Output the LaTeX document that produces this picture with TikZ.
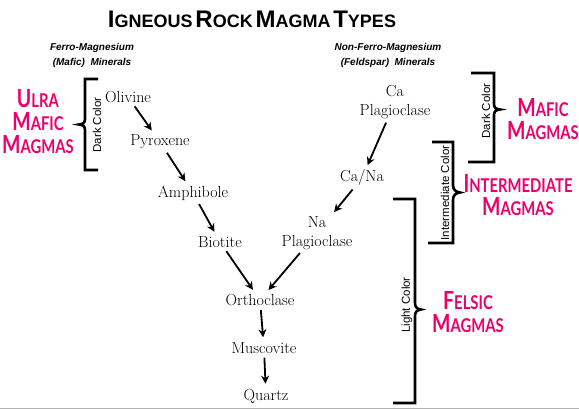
\documentclass[tikz,border=0pt]{standalone}
\usepackage{fontspec}
\newfontfamily\sansf{Liberation Sans}
\newfontfamily\magf[FakeStretch=0.78]{Lato}
\usetikzlibrary{arrows.meta}
\definecolor{magm}{RGB}{236,0,108}
\newcommand\tsc[2]{{\fontsize{24}{24}\selectfont #1}{\fontsize{18}{18}\selectfont #2}}
\newcommand\msc[2]{{\fontsize{25}{23}\selectfont #1}{\fontsize{19}{23}\selectfont #2}}
\begin{document}
\begin{tikzpicture}[x=1pt,y=-1pt,
  mineral/.style={font=\fontsize{16}{19}\selectfont, inner sep=1pt, align=center},
  arr/.style={-{Stealth[length=8pt,width=8pt]}, line width=1.8pt, shorten <=3pt, shorten >=4pt},
  brk/.style={line width=2.6pt, line join=miter},
  side/.style={font=\sansf\fontsize{11.5}{12}\selectfont, rotate=90, inner sep=0pt},
  magma/.style={text=magm, font=\magf\bfseries\fontsize{19}{23}\selectfont, align=center, inner sep=0pt},
  hdr/.style={font=\sansf\bfseries\itshape\fontsize{10}{15}\selectfont, align=center, inner sep=0pt}
]
\useasboundingbox (0,0) rectangle (579,409);
\fill[white] (0,0) rectangle (579,409);
\draw[gray!60, line width=1pt] (0,408.5) -- (579,408.5);

% title and headers
\node[font=\sansf\bfseries, anchor=base, inner sep=0pt] (title) at (252,28)
  {\tsc{I}{GNEOUS} \tsc{R}{OCK} \tsc{M}{AGMA} \tsc{T}{YPES}};
\node[hdr] (hleft) at (92,55) {Ferro-Magnesium\\(Mafic)\ \ Minerals};
\node[hdr] (hright) at (388,55) {Non-Ferro-Magnesium\\(Feldspar)\ \ Minerals};

% minerals
\node[mineral] (olivine) at (128,97) {Olivine};
\node[mineral] (pyroxene) at (160,142) {Pyroxene};
\node[mineral] (amphibole) at (193,193) {Amphibole};
\node[mineral] (biotite) at (220,242) {Biotite};
\node[mineral] (orthoclase) at (260,300) {Orthoclase};
\node[mineral] (muscovite) at (264,348) {Muscovite};
\node[mineral] (quartz) at (266,396) {Quartz};
\node[mineral] (caplag) at (395,102) {Ca\\Plagioclase};
\node[mineral] (cana) at (362,178) {Ca/Na};
\node[mineral] (naplag) at (317,233) {Na\\Plagioclase};

\draw[arr] (olivine) -- (pyroxene);
\draw[arr] (pyroxene) -- (amphibole);
\draw[arr] (amphibole) -- (biotite);
\draw[arr] (biotite) -- (orthoclase);
\draw[arr] (orthoclase) -- (muscovite);
\draw[arr] (muscovite) -- (quartz);
\draw[arr] (caplag) -- (cana);
\draw[arr] (cana) -- (naplag);
\draw[arr] (naplag) -- (orthoclase);

% brackets
\draw[brk] (98,79) -- (85,79) -- (85,119) .. controls (85,123) and (83,124) .. (79,124.5)
  .. controls (83,125) and (85,126) .. (85,130) -- (85,170) -- (98,170);
\draw[brk] (471,73) -- (494,73) -- (494,104) .. controls (494,108) and (496,109) .. (500,109.5)
  .. controls (496,110) and (494,111) .. (494,115) -- (494,162) -- (468,162);
\draw[brk] (432,142) -- (453,142) -- (453,185) .. controls (453,190) and (456,192) .. (460,192.5)
  .. controls (456,193) and (453,195) .. (453,200) -- (453,243) -- (428,243);
\draw[brk] (393,199) -- (415,199) -- (415,303) .. controls (415,307) and (417,309) .. (421,309.5)
  .. controls (417,310) and (415,312) .. (415,316) -- (415,403) -- (393,403);

% side labels
\node[side] (dark1) at (97,125) {Dark Color};
\node[side] (dark2) at (486,111) {Dark Color};
\node[side] (interc) at (445,193) {Intermediate Color};
\node[side] (light) at (407,305) {Light Color};

% magma labels
\node[magma] (ulra) at (38,122) {\msc{U}{LRA}\\\msc{M}{AFIC}\\\msc{M}{AGMAS}};
\node[magma] (mafic) at (543,119) {\msc{M}{AFIC}\\\msc{M}{AGMAS}};
\node[magma] (inter) at (518,195) {\msc{I}{NTERMEDIATE}\\\msc{M}{AGMAS}};
\node[magma] (felsic) at (468,312) {\msc{F}{ELSIC}\\\msc{M}{AGMAS}};
\end{tikzpicture}
\end{document}
